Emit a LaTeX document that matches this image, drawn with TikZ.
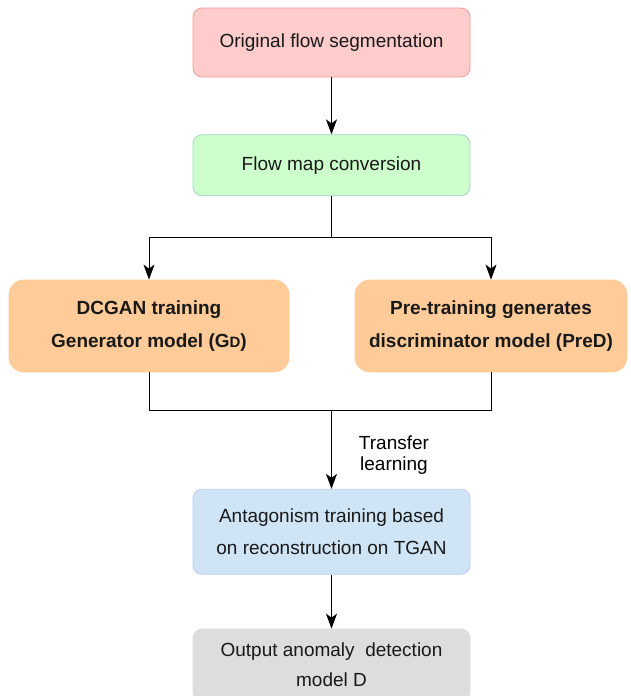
\documentclass[tikz,border=0pt]{standalone}
\usepackage{fontspec}
\setmainfont{Liberation Sans}
\usepackage{xcolor}
\usetikzlibrary{positioning,calc,arrows.meta}

\definecolor{pinkfill}{HTML}{FFCCCC}
\definecolor{pinkline}{HTML}{F19C99}
\definecolor{greenfill}{HTML}{CCFFCC}
\definecolor{greenline}{HTML}{A3D1C8}
\definecolor{orangefill}{HTML}{FFCC99}
\definecolor{bluefill}{HTML}{CFE5F5}
\definecolor{blueline}{HTML}{C4C6F5}
\definecolor{grayfill}{HTML}{DDDDDD}

\begin{document}
\begin{tikzpicture}[
    stage/.style={rectangle, rounded corners=9pt, minimum width=277pt, align=center,
        line width=0.8pt, font=\fontsize{19pt}{32pt}\selectfont, text=black!90},
    trainbox/.style={stage, rounded corners=15pt, minimum height=92pt, fill=orangefill,
        draw=orangefill, font=\bfseries\fontsize{19pt}{33pt}\selectfont},
    arr/.style={-{Stealth[length=15pt,width=11pt,inset=4pt]}, line width=1pt},
    wire/.style={line width=1pt}
]
    \useasboundingbox (0,0) rectangle (630pt,-696pt);

    % main column
    \node [stage, fill=pinkfill, draw=pinkline, minimum height=69pt] (orig) at (331.5pt,-42.5pt) {Original flow segmentation};
    \node [stage, fill=greenfill, draw=greenline, minimum height=61pt, below=57pt of orig] (conv) {Flow map conversion};

    % two training branches
    \node [trainbox, minimum width=280pt] (gen) at (149pt,-326pt) {DCGAN training\\Generator model (G{\fontsize{15pt}{15pt}\selectfont D})};
    \node [trainbox, minimum width=272pt] (dis) at (491pt,-326pt) {Pre-training generates\\discriminator model (PreD)};

    \node [stage, fill=bluefill, draw=blueline, minimum height=85pt] (tgan) at (331.5pt,-531.75pt) {Antagonism training based\\on reconstruction on TGAN};
    \node [stage, fill=grayfill, draw=grayfill, minimum height=72pt, below=54pt of tgan,
        font=\fontsize{19pt}{30pt}\selectfont] (out) {Output anomaly\ \ detection\\model D};

    \coordinate (split) at (331.5pt,-237pt);
    \coordinate (join) at (331.5pt,-410pt);

    \draw [arr] (orig) -- (conv);
    \draw [wire] (conv) -- (split);
    \draw [arr] (split) -| (gen);
    \draw [arr] (split) -| (dis);

    \draw [wire] (gen) |- (join);
    \draw [wire] (dis) |- (join);
    \draw [arr] (join) -- (tgan);
    \node [align=center, font=\fontsize{19pt}{21pt}\selectfont] (tl) at (394pt,-455pt) {Transfer\\learning};

    \draw [arr] (tgan) -- (out);
\end{tikzpicture}
\end{document}
